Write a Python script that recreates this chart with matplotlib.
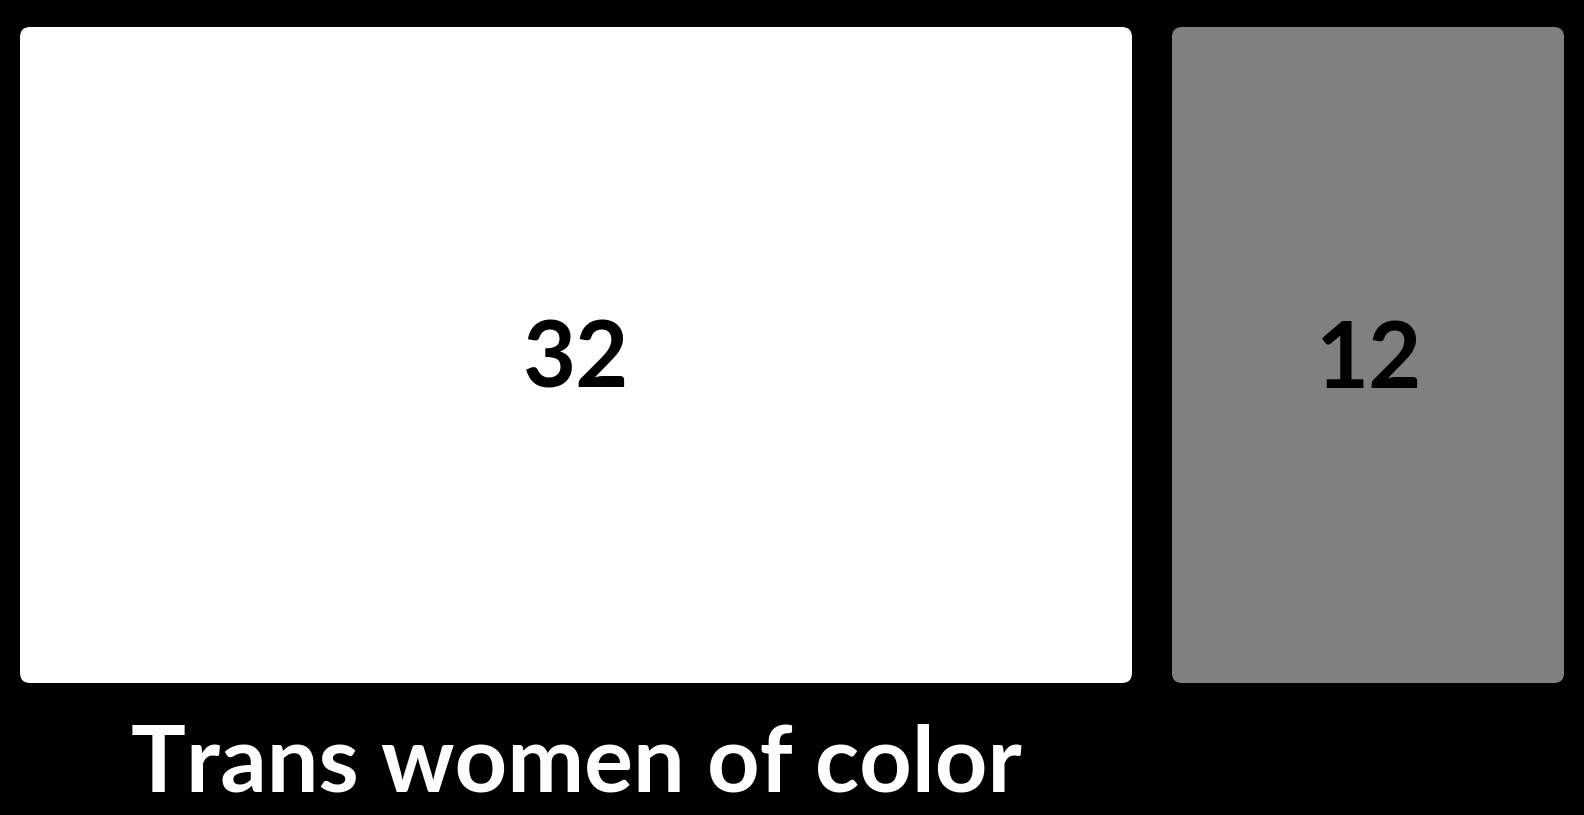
import matplotlib.pyplot as plt
from matplotlib.patches import FancyBboxPatch

labels = ["Trans women of color", "Other"]
values = [32, 12]
colors = ["#ffffff", "#808080"]
show_label = [True, False]

W, H = 1584, 815
pad = 20
top_pad = 27
cell_bottom = 703  # treemap area ends here (from top)

plt.rcParams['font.family'] = ['Lato', 'DejaVu Sans']

fig = plt.figure(figsize=(W / 100, H / 100), dpi=100, facecolor="black")
ax = fig.add_axes([0, 0, 1, 1])
ax.set_xlim(0, W)
ax.set_ylim(0, H)
ax.set_facecolor("black")
ax.axis("off")

num_size = 66
cap_half = 0.7165 * num_size * 100 / 72 / 2  # half of the digit height, px

total = sum(values)
x0 = 0
for lab, v, c, show in zip(labels, values, colors, show_label):
    cw = v / total * W
    bx = x0 + pad
    bw = cw - 2 * pad
    by = H - cell_bottom + pad
    bh = (H - top_pad) - by
    box = FancyBboxPatch((bx, by), bw, bh,
                         boxstyle="round,pad=0,rounding_size=10",
                         facecolor=c, edgecolor="none")
    ax.add_patch(box)
    ax.text(bx + bw / 2, by + bh / 2 - cap_half, str(v), ha="center",
            va="baseline", fontsize=num_size, fontweight="bold", color="black")
    if show:
        ax.text(bx + bw / 2, 23, lab, ha="center", va="baseline",
                fontsize=66, fontweight="bold", color="white")
    x0 += cw

fig.savefig("out.png", dpi=100, facecolor="black")
